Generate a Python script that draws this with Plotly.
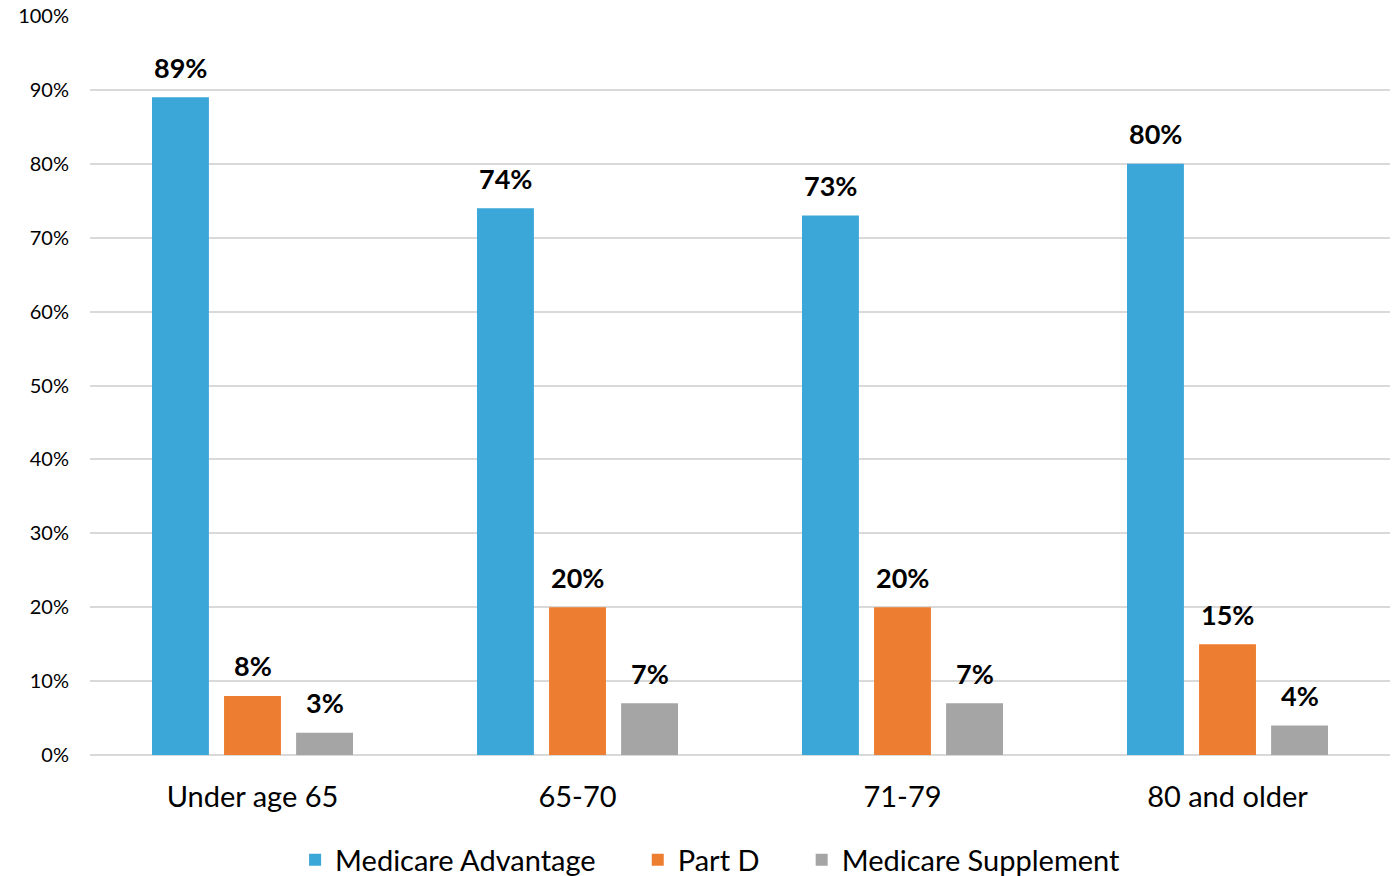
import plotly.graph_objects as go

categories = ["Under age 65", "65-70", "71-79", "80 and older"]
medicare_advantage = [89, 74, 73, 80]
part_d = [8, 20, 20, 15]
medicare_supplement = [3, 7, 7, 4]
y_ticks = [0, 10, 20, 30, 40, 50, 60, 70, 80, 90, 100]
y_tick_labels = [f"{v}%" for v in y_ticks]

FONT = "Lato, 'Open Sans', sans-serif"
BARGAP = 0.335
series = [
    ("Medicare Advantage", medicare_advantage, "#3BA6D8"),
    ("Part D", part_d, "#ED7D31"),
    ("Medicare Supplement", medicare_supplement, "#A5A5A5"),
]

fig = go.Figure()
slot = (1 - BARGAP) / len(series)
for k, (name, vals, color) in enumerate(series):
    fig.add_trace(go.Bar(
        name=name + ("&nbsp;" * 5 if k < len(series) - 1 else ""),
        x=categories, y=vals, marker_color=color, marker_line_width=0,
    ))
    off = (k - (len(series) - 1) / 2) * slot
    for i, v in enumerate(vals):
        fig.add_annotation(x=i + off, y=v, xref="x", yref="y", text=f"<b>{v}%</b>",
                           showarrow=False, yanchor="middle", yshift=30,
                           font=dict(family=FONT, size=27, color="black"))

fig.update_layout(
    barmode="group", bargap=BARGAP, bargroupgap=0.21,
    width=1394, height=876,
    margin=dict(l=90, r=4, t=16, b=121, autoexpand=False),
    plot_bgcolor="white", paper_bgcolor="white",
    font=dict(family=FONT, color="black"),
    legend=dict(orientation="h", x=0.477, xanchor="center", y=-0.142, yanchor="middle",
                font=dict(size=29, family=FONT), traceorder="normal"),
)
fig.update_yaxes(range=[0, 100], tickvals=y_ticks, ticktext=y_tick_labels,
                 showgrid=True, gridcolor="#D9D9D9", gridwidth=2,
                 zeroline=True, zerolinecolor="#D9D9D9", zerolinewidth=2,
                 tickfont=dict(size=20, family=FONT), ticklabelstandoff=20, showline=False)
fig.update_xaxes(tickfont=dict(size=29, family=FONT), showline=False, ticks="",
                 ticklabelstandoff=22)

fig.write_html("out.html")
